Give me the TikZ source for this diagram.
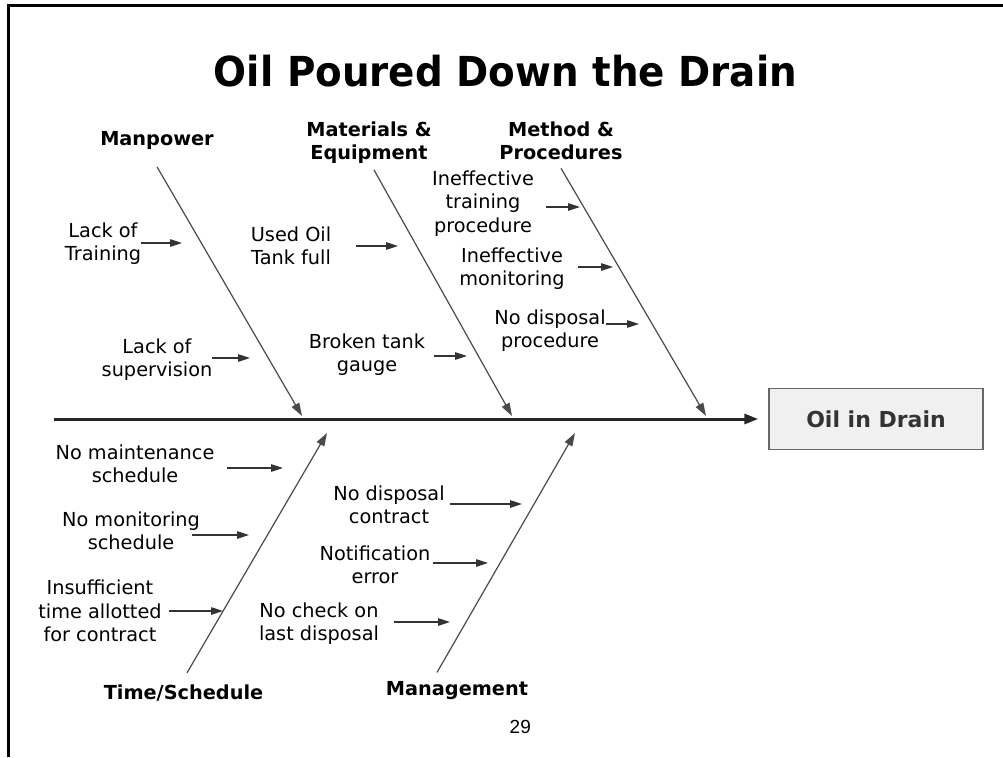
\documentclass[tikz,border=0pt]{standalone}
\usepackage{fontspec}
\setmainfont{DejaVu Sans}
\newfontfamily\titlefont[FakeStretch=0.94]{DejaVu Sans}
\newfontfamily\pagefont{Liberation Sans}
\usetikzlibrary{arrows.meta}

\definecolor{bonecol}{HTML}{4A4A4A}
\definecolor{boxfill}{HTML}{F0F0F0}
\definecolor{boxline}{HTML}{666666}
\definecolor{boxtext}{HTML}{333333}

\begin{document}
\begin{tikzpicture}[x=1pt, y=-1pt,
    every node/.style={inner sep=0pt, align=center, font=\fontsize{19.3}{23.3}\selectfont},
    category/.style={font=\fontsize{19.3}{22.6}\selectfont\bfseries},
    bone/.style={color=bonecol, line width=1.2pt, -{Triangle[length=13pt,width=8.5pt]}},
    cause/.style={color=black!80, line width=1.1pt, -{Triangle[length=12pt,width=7.5pt]}},
    spine/.style={color=black!85, line width=3pt, -{Triangle[length=14pt,width=10pt]}},
    effect/.style={draw=boxline, fill=boxfill, line width=1.5pt, minimum width=214pt,
        minimum height=61pt, text=boxtext, font=\fontsize{22}{26}\selectfont\bfseries}]
            \useasboundingbox (0,0) rectangle (1003,757);
            \draw[line width=3pt] (8.5,757) |- (1003,5.5);

            \node[anchor=base, font=\titlefont\bfseries\fontsize{41.3}{45}\selectfont] (title) at (505.5,87) {Oil Poured Down the Drain};

            \coordinate (tail) at (54,419);
            \node[effect] (oil) at (876,419) {Oil in Drain};
            \path [spine, shorten >=10] (tail) edge (oil);

            \node[category, anchor=base] (mp) at (157,145) {Manpower};
            \coordinate (mp-top) at ([yshift=-17.6]mp.south);
            \coordinate (mp-tip) at (302,416);
            \path [bone] (mp-top) edge (mp-tip);

            \node[category] (me) at (369,142.8) {Materials \&\\Equipment};
            \coordinate (me-top) at ([xshift=5, yshift=-6.3]me.south);
            \coordinate (me-tip) at (512,416);
            \path [bone] (me-top) edge (me-tip);

            \node[category] (mm) at (561,141) {Method \&\\Procedures};
            \coordinate (mm-top) at ([yshift=-8.3]mm.south);
            \coordinate (mm-tip) at (706,416);
            \path [bone] (mm-top) edge (mm-tip);

            \node[category, anchor=base] (ts) at (183.5,699) {Time/Schedule};
            \coordinate (ts-top) at ([xshift=3.5, yshift=11.3]ts.north);
            \coordinate (ts-tip) at (327,433);
            \path [bone] (ts-top) edge (ts-tip);

            \node[category, anchor=base] (mg) at (457,695) {Management};
            \coordinate (mg-top) at ([xshift=-20, yshift=8.3]mg.north);
            \coordinate (mg-tip) at (575,433);
            \path [bone] (mg-top) edge (mg-tip);

            \node (lt) at (103,244) {Lack of\\Training};
            \coordinate (lt-tip) at (182,243);
            \path [cause] (lt.east |- lt-tip) edge (lt-tip);

            \node (ls) at (157,359.5) {Lack of\\supervision};
            \coordinate (ls-tip) at (250,358);
            \path [cause] (ls.east |- ls-tip) edge (ls-tip);

            \node (uo) at (291,245.5) {Used Oil\\Tank full};
            \coordinate (uo-tip) at (398,246);
            \path [cause, shorten <=25] (uo.east |- uo-tip) edge (uo-tip);

            \node (bt) at (367,355) {Broken tank\\gauge};
            \coordinate (bt-tip) at (467,356);
            \path [cause, shorten <=9] (bt.east |- bt-tip) edge (bt-tip);

            \node (it) at (483,203.5) {Ineffective\\training\\procedure};
            \coordinate (it-tip) at (580,207);
            \path [cause, shorten <=12] (it.east |- it-tip) edge (it-tip);

            \node (im) at (512,268.5) {Ineffective\\monitoring};
            \coordinate (im-tip) at (613,267);
            \path [cause, shorten <=13] (im.east |- im-tip) edge (im-tip);

            \node (nd) at (550,330.5) {No disposal\\procedure};
            \coordinate (nd-tip) at (639,324);
            \path [cause] (nd.east |- nd-tip) edge (nd-tip);

            \node (nm) at (135,464) {No maintenance\\schedule};
            \coordinate (nm-tip) at (283,468);
            \path [cause, shorten <=12] (nm.east |- nm-tip) edge (nm-tip);

            \node (nn) at (131,530.5) {No monitoring\\schedule};
            \coordinate (nn-tip) at (249,535);
            \path [cause, shorten <=-8] (nn.east |- nn-tip) edge (nn-tip);

            \node (is) at (100,611) {Insufficient\\time allotted\\for contract};
            \coordinate (is-tip) at (223,611);
            \path [cause, shorten <=7] (is.east |- is-tip) edge (is-tip);

            \node (dc) at (389,505) {No disposal\\contract};
            \coordinate (dc-tip) at (522,504);
            \path [cause, shorten <=5] (dc.east |- dc-tip) edge (dc-tip);

            \node (ne) at (375,564.5) {Notification\\error};
            \coordinate (ne-tip) at (488,563);
            \path [cause, shorten <=2] (ne.east |- ne-tip) edge (ne-tip);

            \node (nc) at (319,623.5) {No check on\\last disposal};
            \coordinate (nc-tip) at (450,622);
            \path [cause, shorten <=15] (nc.east |- nc-tip) edge (nc-tip);

            \node[anchor=base, font=\pagefont\fontsize{19}{22}\selectfont] (page) at (520.3,733) {29};
\end{tikzpicture}
\end{document}
